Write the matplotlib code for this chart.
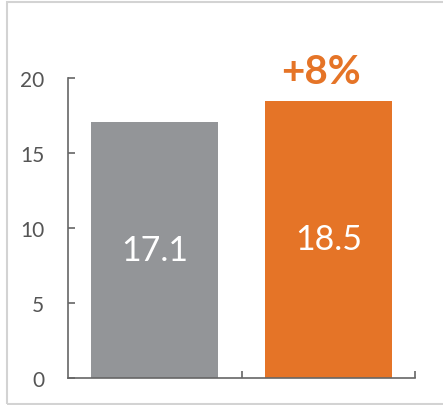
import matplotlib.pyplot as plt
from matplotlib.patches import Rectangle

categories = ["Before", "After"]
values = [17.1, 18.5]
bar_colors = ["#939598", "#E57427"]
value_labels = ["17.1", "18.5"]
change_label = "+8%"
y_ticks = [0, 5, 10, 15, 20]

plt.rcParams['font.family'] = ['Lato', 'DejaVu Sans']

fig = plt.figure(figsize=(4.43, 4.06), dpi=100)
ax = fig.add_axes([68 / 443, 1 - 379 / 406, (415 - 68) / 443, (379 - 79) / 406])

x = list(range(len(categories)))
ax.bar(x, values, width=0.73, color=bar_colors, zorder=2)

for xi, v, lab in zip(x, values, value_labels):
    ax.text(xi, v / 2, lab, ha='center', va='center', color='white', fontsize=24.5)

ax.text(x[1] - 0.045, values[1] + 1.9, change_label, ha='center', va='center',
        color=bar_colors[1], fontsize=29, fontweight='bold')

ax.set_xlim(-0.5, len(categories) - 0.5)
ax.set_ylim(0, 20)
ax.set_yticks(y_ticks)
ax.set_xticks([0.5, 1.5])
ax.set_xticklabels([])

axis_color = "#666666"
for side in ['top', 'right']:
    ax.spines[side].set_visible(False)
for side in ['left', 'bottom']:
    ax.spines[side].set_color(axis_color)
    ax.spines[side].set_linewidth(1.2)
ax.tick_params(axis='both', direction='in', length=5, width=1.2, color=axis_color)
ax.tick_params(axis='y', labelsize=15, labelcolor="#555555", pad=17)

# light frame around the whole graphic
fig.patches.append(Rectangle((7 / 443, 1 / 406), 1.0, 402 / 406, transform=fig.transFigure,
                             fill=False, edgecolor="#d3d3d3", linewidth=1.5))

fig.savefig("out.png", dpi=100)
